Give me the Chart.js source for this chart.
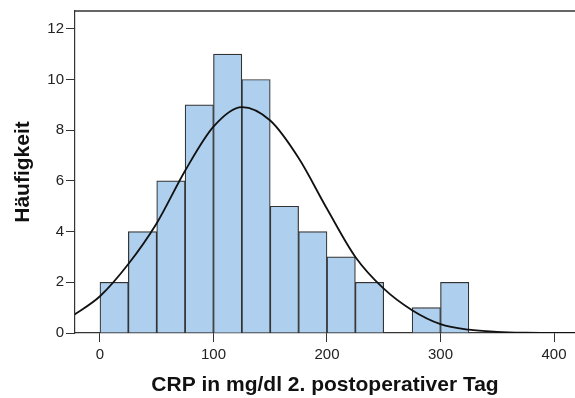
<!DOCTYPE html>
<html>
<head>
<meta charset="utf-8">
<script src="https://cdn.jsdelivr.net/npm/chart.js@4.4.1/dist/chart.umd.min.js"></script>
<style>
  html, body { margin: 0; padding: 0; background: #fff; }
  #wrap { width: 575px; height: 398px; }
</style>
</head>
<body>
<div id="wrap"><canvas id="chart" width="575" height="398"></canvas></div>
<script>
// Klassen (Untergrenzen, Breite 25) und Häufigkeiten
const binStart = [0, 25, 50, 75, 100, 125, 150, 175, 200, 225, 250, 275, 300];
const binWidth = 25;
const counts = [2, 4, 6, 9, 11, 10, 5, 4, 3, 2, 0, 1, 2];

// Normalverteilungskurve
const curveX = [-25, 0, 25, 50, 75, 100, 125, 150, 175, 200, 225, 250, 275, 300, 325, 350, 375, 400, 425];
const curveY = [0.65, 1.45, 2.72, 4.33, 6.4, 8.14, 8.91, 8.38, 6.9, 4.9, 3.0, 1.75, 0.9, 0.35, 0.13, 0.045, 0.012, 0.003, 0];

// Achsenbeschriftungen
const xTicks = [0, 100, 200, 300, 400];
const yTicks = [0, 2, 4, 6, 8, 10, 12];

const axisColor = '#333333';
const fontFamily = '"Liberation Sans", Arial, sans-serif';

// Rahmen oben (SPSS-Stil)
const frame = {
    id: 'frame',
    afterDatasetsDraw(chart) {
        const { ctx, chartArea } = chart;
        ctx.save();
        ctx.strokeStyle = axisColor;
        ctx.lineWidth = 1.5;
        ctx.beginPath();
        ctx.moveTo(chartArea.left, chartArea.top);
        ctx.lineTo(chartArea.right, chartArea.top);
        ctx.stroke();
        ctx.restore();
    }
};

new Chart(document.getElementById('chart'), {
    type: 'bar',
    data: {
        datasets: [
            {
                type: 'line',
                data: curveX.map((x, i) => ({ x: x, y: curveY[i] })),
                borderColor: '#111111',
                borderWidth: 1.8,
                pointRadius: 0,
                cubicInterpolationMode: 'monotone',
                clip: 0,
                order: 0
            },
            {
                type: 'bar',
                data: binStart.map((s, i) => ({ x: s + binWidth / 2, y: counts[i] })),
                backgroundColor: '#AECFEE',
                borderColor: axisColor,
                borderWidth: 1.2,
                barPercentage: 1,
                categoryPercentage: 1,
                grouped: false,
                order: 1
            }
        ]
    },
    options: {
        responsive: false,
        animation: false,
        layout: { padding: { top: 11, right: 0, left: 0, bottom: 0 } },
        plugins: {
            legend: { display: false },
            tooltip: { enabled: false }
        },
        scales: {
            x: {
                type: 'linear',
                offset: false,
                min: -22,
                max: 418.5,
                afterBuildTicks: scale => { scale.ticks = xTicks.map(v => ({ value: v })); },
                afterFit: scale => { scale.height = 65; },
                grid: { display: true, offset: false, drawOnChartArea: false, tickLength: 9, color: axisColor, tickColor: axisColor },
                border: { display: true, color: axisColor, width: 1.2 },
                ticks: { color: '#222', font: { family: fontFamily, size: 15 }, padding: 4, maxRotation: 0 },
                title: {
                    display: true,
                    text: 'CRP in mg/dl 2. postoperativer Tag',
                    color: '#111',
                    font: { family: fontFamily, size: 21, weight: 'bold' },
                    padding: { top: 0, bottom: 0 }
                }
            },
            y: {
                min: 0,
                max: 12.7,
                afterBuildTicks: scale => { scale.ticks = yTicks.map(v => ({ value: v })); },
                afterFit: scale => { scale.width = 75; },
                grid: { display: true, drawOnChartArea: false, tickLength: 9, color: axisColor, tickColor: axisColor },
                border: { display: true, color: axisColor, width: 1.2 },
                ticks: { color: '#222', font: { family: fontFamily, size: 15 }, padding: 2 },
                title: {
                    display: true,
                    text: 'Häufigkeit',
                    color: '#111',
                    font: { family: fontFamily, size: 21, weight: 'bold' },
                    padding: { top: 11, bottom: 0 }
                }
            }
        }
    },
    plugins: [frame]
});
</script>
</body>
</html>
